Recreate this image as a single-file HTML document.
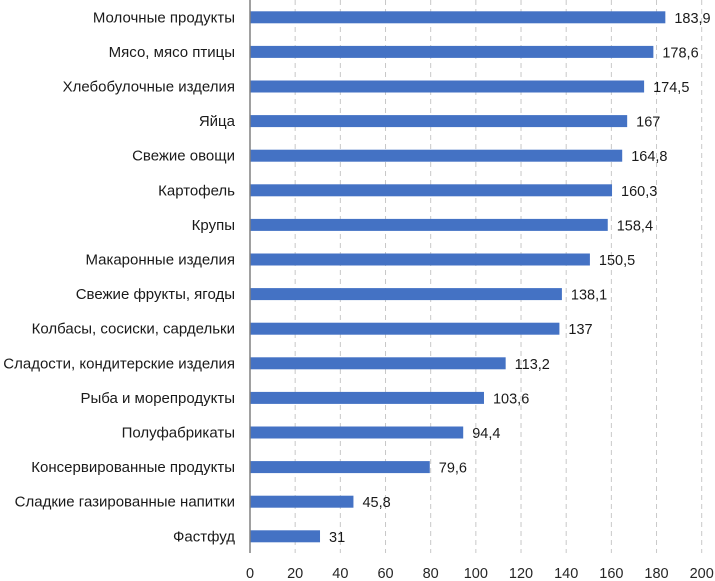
<!DOCTYPE html>
<html><head><meta charset="utf-8"><style>
html,body{margin:0;padding:0;background:#fff;}
svg{display:block;font-family:"Liberation Sans",sans-serif;}
</style></head><body>
<svg id="chart" width="715" height="581" viewBox="0 0 715 581" xmlns="http://www.w3.org/2000/svg"></svg>
<script>
const categories=["Молочные продукты","Мясо, мясо птицы","Хлебобулочные изделия","Яйца","Свежие овощи","Картофель","Крупы","Макаронные изделия","Свежие фрукты, ягоды","Колбасы, сосиски, сардельки","Сладости, кондитерские изделия","Рыба и морепродукты","Полуфабрикаты","Консервированные продукты","Сладкие газированные напитки","Фастфуд"];
const values=[183.9,178.6,174.5,167,164.8,160.3,158.4,150.5,138.1,137,113.2,103.6,94.4,79.6,45.8,31];
const valueLabels=["183,9","178,6","174,5","167","164,8","160,3","158,4","150,5","138,1","137","113,2","103,6","94,4","79,6","45,8","31"];
const ticks=[0,20,40,60,80,100,120,140,160,180,200];
const NS="http://www.w3.org/2000/svg";
const svg=document.getElementById('chart');
const x0=250,x1=701.7,vmax=200;
const xs=v=>x0+(v/vmax)*(x1-x0);
const yTop=17.3,step=34.6,bh=12;
const yc=i=>yTop+i*step;
function mk(t,a){const e=document.createElementNS(NS,t);for(const k in a)e.setAttribute(k,a[k]);svg.appendChild(e);return e;}
ticks.forEach((t,i)=>{
  if(t>0){const g=mk('line',{x1:xs(t),x2:xs(t),y1:0,y2:553,stroke:'#c8c8c8','stroke-width':1,'stroke-dasharray':'5,4'});
  
  }
  const tl=mk('text',{x:xs(t),y:578,'text-anchor':'middle','font-size':14.5,fill:'#262626'});
  tl.textContent=t;
  
  
});
categories.forEach((c,i)=>{
  const r=mk('rect',{x:x0,y:yc(i)-bh/2,width:xs(values[i])-x0,height:bh,fill:'#4472c4'});
  
  
  const l=mk('text',{x:235,y:yc(i)+5,'text-anchor':'end','font-size':15,fill:'#1a1a1a'});
  l.textContent=c;
  
  
  const v=mk('text',{x:xs(values[i])+9,y:yc(i)+5.5,'font-size':14.5,fill:'#1a1a1a'});
  v.textContent=valueLabels[i];
  
  
});
const ax=mk('line',{x1:x0,x2:x0,y1:0,y2:553,stroke:'#808080','stroke-width':1.5});


</script>
</body></html>
